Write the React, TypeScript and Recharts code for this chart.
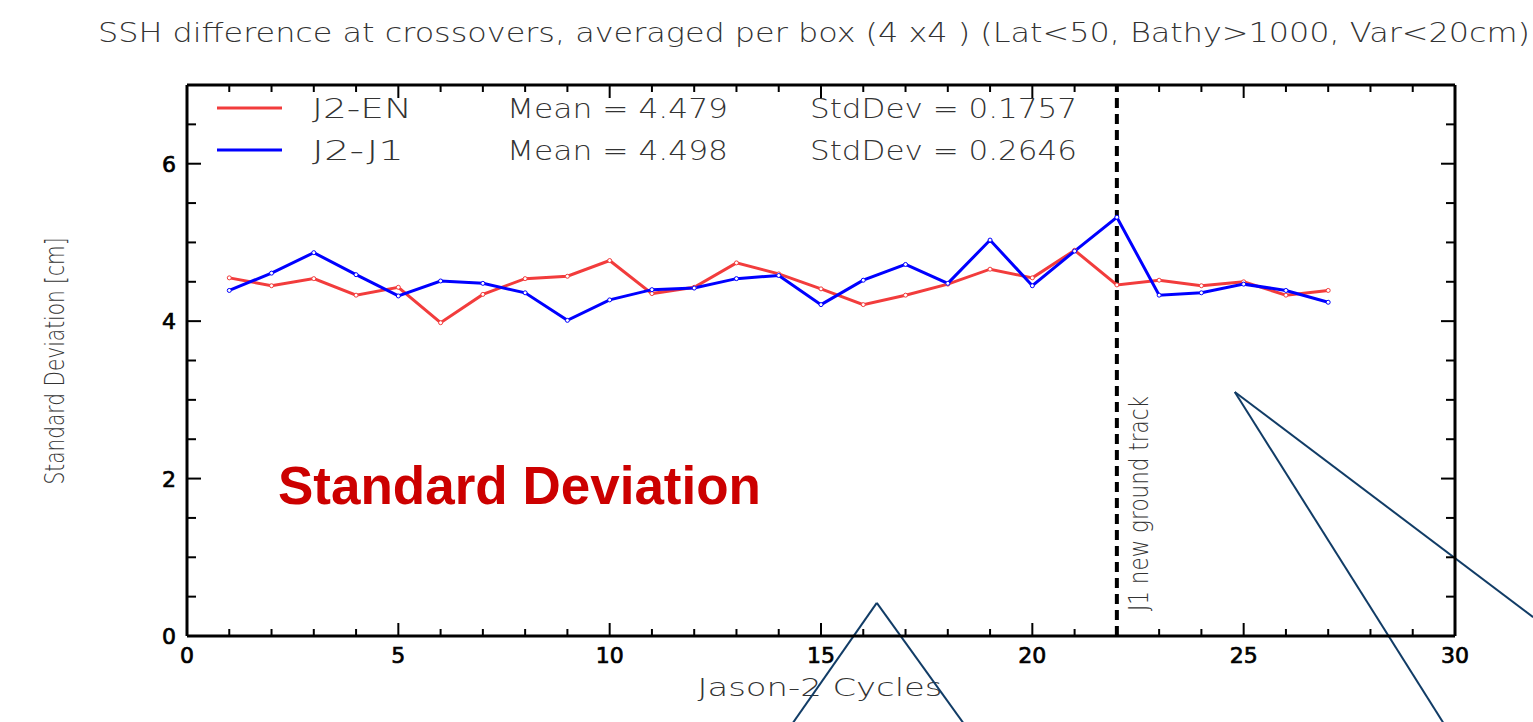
import React from "react";
import { LineChart, Line, XAxis, YAxis, ReferenceLine, Customized } from "recharts";

const cycles = [1, 2, 3, 4, 5, 6, 7, 8, 9, 10, 11, 12, 13, 14, 15, 16, 17, 18, 19, 20, 21, 22, 23, 24, 25, 26, 27];
const j2en = [4.55, 4.45, 4.54, 4.33, 4.43, 3.98, 4.34, 4.54, 4.57, 4.77, 4.35, 4.43, 4.74, 4.6, 4.41, 4.21, 4.33, 4.47, 4.66, 4.55, 4.9, 4.46, 4.52, 4.45, 4.5, 4.33, 4.39];
const j2j1 = [4.39, 4.61, 4.87, 4.59, 4.32, 4.51, 4.48, 4.36, 4.01, 4.27, 4.4, 4.42, 4.54, 4.58, 4.21, 4.52, 4.72, 4.48, 5.03, 4.45, 4.89, 5.32, 4.33, 4.36, 4.47, 4.39, 4.24];

const xTicks = [0, 1, 2, 3, 4, 5, 6, 7, 8, 9, 10, 11, 12, 13, 14, 15, 16, 17, 18, 19, 20, 21, 22, 23, 24, 25, 26, 27, 28, 29, 30];
const yTicks = [0, 0.5, 1, 1.5, 2, 2.5, 3, 3.5, 4, 4.5, 5, 5.5, 6, 6.5, 7];
const xLabels = [0, 5, 10, 15, 20, 25, 30];
const yLabels = [0, 2, 4, 6];

const newTrackCycle = 22;

const legendRows = [
  { name: "J2-EN", color: "#f23c3c", mean: "Mean = 4.479", std: "StdDev = 0.1757" },
  { name: "J2-J1", color: "#0000ff", mean: "Mean = 4.498", std: "StdDev = 0.2646" },
];

// callout strokes drawn over the plot, in data units
const callouts = [
  [{ x: 14.34, y: -1.1 }, { x: 16.32, y: 0.42 }],
  [{ x: 16.32, y: 0.42 }, { x: 18.36, y: -1.1 }],
  [{ x: 24.79, y: 3.1 }, { x: 29.72, y: -1.1 }],
  [{ x: 24.79, y: 3.1 }, { x: 31.85, y: 0.24 }],
];

const data = cycles.map((c, i) => ({ cycle: c, j2en: j2en[i], j2j1: j2j1[i] }));

const thin = "'DejaVu Sans', sans-serif";
const num = "'DejaVu Sans', sans-serif";

function BottomTick(props: any) {
  const { x, y, payload } = props;
  const major = xLabels.includes(payload.value);
  return (
    <g>
      <line x1={x} y1={y} x2={x} y2={y - (major ? 13 : 7)} stroke="#000" strokeWidth={2} />
      {major && (
        <text x={x} y={y + 27} textAnchor="middle" fontFamily={num} fontSize={22} fill="#000" stroke="#000" strokeWidth={0.7}>
          {payload.value}
        </text>
      )}
    </g>
  );
}

function TopTick(props: any) {
  const { x, y, payload } = props;
  const major = xLabels.includes(payload.value);
  return <line x1={x} y1={y} x2={x} y2={y + (major ? 13 : 7)} stroke="#000" strokeWidth={2} />;
}

function LeftTick(props: any) {
  const { x, y, payload } = props;
  const major = yLabels.includes(payload.value);
  return (
    <g>
      <line x1={x} y1={y} x2={x + (major ? 14 : 9)} y2={y} stroke="#000" strokeWidth={2} />
      {major && (
        <text x={x - 11} y={y + 8} textAnchor="end" fontFamily={num} fontSize={22} fill="#000" stroke="#000" strokeWidth={0.7}>
          {payload.value}
        </text>
      )}
    </g>
  );
}

function RightTick(props: any) {
  const { x, y, payload } = props;
  const major = yLabels.includes(payload.value);
  return <line x1={x} y1={y} x2={x - (major ? 14 : 9)} y2={y} stroke="#000" strokeWidth={2} />;
}

function TrackLabel(props: any) {
  const vb = props.viewBox || {};
  const x = vb.x + 31;
  const y = vb.y + vb.height - 25;
  return (
    <text x={x} y={y} transform={`rotate(-90 ${x} ${y})`} fontFamily={thin} fontWeight={200} fontSize={26} fill="#333" textLength={215} lengthAdjust="spacingAndGlyphs">
      J1 new ground track
    </text>
  );
}

function Overlay() {
  return (
    <g>
      <text x={98} y={42} fontFamily={thin} fontWeight={200} fontSize={26} fill="#333" textLength={1432} lengthAdjust="spacingAndGlyphs">
        SSH difference at crossovers, averaged per box (4 x4 ) (Lat&lt;50, Bathy&gt;1000, Var&lt;20cm)
      </text>
      {legendRows.map((r, i) => {
        const cy = 108 + i * 42;
        return (
          <g key={r.name}>
            <line x1={217} y1={cy} x2={282} y2={cy} stroke={r.color} strokeWidth={3} />
            <text x={312} y={cy + 10} fontFamily={thin} fontWeight={200} fontSize={26} fill="#333" textLength={i === 0 ? 100 : 92} lengthAdjust="spacingAndGlyphs">
              {r.name}
            </text>
            <text x={507} y={cy + 10} fontFamily={thin} fontWeight={200} fontSize={26} fill="#333" textLength={221} lengthAdjust="spacingAndGlyphs">
              {r.mean}
            </text>
            <text x={810} y={cy + 10} fontFamily={thin} fontWeight={200} fontSize={26} fill="#333" textLength={267} lengthAdjust="spacingAndGlyphs">
              {r.std}
            </text>
          </g>
        );
      })}
      <text x={-361} y={64} transform="rotate(-90)" textAnchor="middle" fontFamily={thin} fontWeight={200} fontSize={27} fill="#333" textLength={247} lengthAdjust="spacingAndGlyphs">
        Standard Deviation [cm]
      </text>
      <text x={820} y={696} textAnchor="middle" fontFamily={thin} fontWeight={200} fontSize={25} fill="#333" textLength={245} lengthAdjust="spacingAndGlyphs">
        Jason-2 Cycles
      </text>
      <text x={278} y={504} fontFamily="'Liberation Sans', Arial, sans-serif" fontWeight="bold" fontSize={53} fill="#cc0000">
        Standard Deviation
      </text>
    </g>
  );
}

export default function App() {
  return (
    <div style={{ position: "absolute", left: 0, top: 0, width: 1533, height: 722, background: "#fff" }}>
      <LineChart width={1533} height={722} data={data} margin={{ top: 84, right: 77, bottom: 85, left: 0 }}>
        <XAxis
          type="number"
          dataKey="cycle"
          domain={[0, 30]}
          ticks={xTicks}
          interval={0}
          height={1}
          tickSize={0}
          tickMargin={0}
          tickLine={false}
          axisLine={{ stroke: "#000", strokeWidth: 3 }}
          tick={<BottomTick />}
          allowDataOverflow
        />
        <XAxis
          xAxisId="top"
          orientation="top"
          type="number"
          dataKey="cycle"
          domain={[0, 30]}
          ticks={xTicks}
          interval={0}
          height={1}
          tickSize={0}
          tickMargin={0}
          tickLine={false}
          axisLine={{ stroke: "#000", strokeWidth: 3 }}
          tick={<TopTick />}
          allowDataOverflow
        />
        <YAxis
          type="number"
          domain={[0, 7]}
          ticks={yTicks}
          interval={0}
          width={187}
          tickSize={0}
          tickMargin={0}
          tickLine={false}
          axisLine={{ stroke: "#000", strokeWidth: 3 }}
          tick={<LeftTick />}
          allowDataOverflow
        />
        <YAxis
          yAxisId="right"
          orientation="right"
          type="number"
          domain={[0, 7]}
          ticks={yTicks}
          interval={0}
          width={1}
          tickSize={0}
          tickMargin={0}
          tickLine={false}
          axisLine={{ stroke: "#000", strokeWidth: 3 }}
          tick={<RightTick />}
          allowDataOverflow
        />
        <ReferenceLine x={newTrackCycle} stroke="#000" strokeWidth={4} strokeDasharray="10 6" label={<TrackLabel />} />
        <Line
          type="linear"
          dataKey="j2en"
          stroke="#f23c3c"
          strokeWidth={3}
          dot={{ r: 2, fill: "#fff", stroke: "#f23c3c", strokeWidth: 1 }}
          isAnimationActive={false}
        />
        <Line
          type="linear"
          dataKey="j2j1"
          stroke="#0000ff"
          strokeWidth={3}
          dot={{ r: 2, fill: "#fff", stroke: "#0000ff", strokeWidth: 1 }}
          isAnimationActive={false}
        />
        <Customized component={<Overlay />} />
        {callouts.map((seg, i) => (
          <ReferenceLine key={i} segment={seg} stroke="#113c66" strokeWidth={2} ifOverflow="visible" />
        ))}
      </LineChart>
    </div>
  );
}
